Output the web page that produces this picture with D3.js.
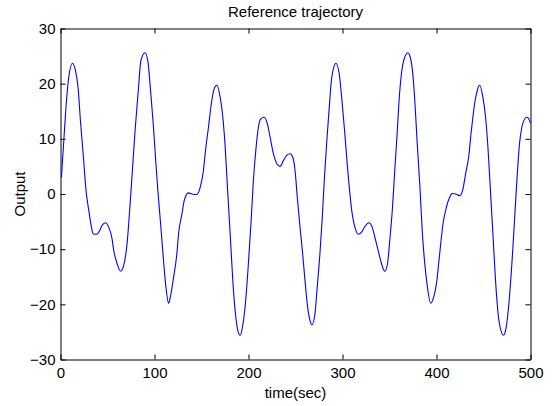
<!DOCTYPE html>
<html>
<head>
<meta charset="utf-8">
<script src="https://cdn.jsdelivr.net/npm/d3@7"></script>
<style>
  html, body { margin: 0; padding: 0; background: #fff; }
  svg text { font-family: "Liberation Sans", Arial, sans-serif; fill: #000; }
</style>
</head>
<body>
<svg id="chart" width="555" height="406"></svg>
<script>
// Sampled reference trajectory: time (s) and output value
const timeSec = [
  1, 4.2, 6.4, 8.8, 12.7, 15.9, 18.8, 21.2, 24.1, 27.2, 30.1, 32.6, 34.7, 38.2, 41.7, 44.2, 47.8, 51.3, 54.8, 56.6,
  60.2, 64.0, 67.2, 70.8, 74.3, 77.2, 79.6, 82.5, 85.6, 89.9, 93.1, 95.5, 98.4, 100.8, 103.3, 106.2, 109.0, 111.8, 115.0, 116.8,
  120.3, 123.8, 125.6, 129.2, 131.6, 136.2, 139.8, 145.1, 148.6, 152.1, 153.9, 157.4, 161.0, 163.5, 166.3, 169.9, 172.7, 175.2, 177.6, 180.5,
  183.3, 186.1, 188.6, 191.1, 193.9, 196.7, 199.9, 202.8, 205.2, 208.1, 210.5, 213.1, 216.6, 220.1, 223.0, 226.5, 230.1, 233.6, 237.2, 240.7,
  244.2, 247.0, 249.5, 251.9, 254.8, 257.6, 260.1, 262.9, 265.4, 267.5, 270.7, 273.1, 276.0, 278.5, 280.6, 283.1, 285.9, 288.4, 293.0, 296.5,
  299.7, 302.5, 305.0, 307.9, 310.3, 313.2, 316.7, 320.3, 323.8, 328.0, 331.6, 334.4, 337.9, 340.5, 345.0, 347.9, 350.3, 353.2, 355.6, 358.1,
  360.2, 362.7, 366.2, 369.7, 371.5, 374.4, 376.9, 379.3, 382.2, 385.0, 387.5, 389.9, 393.8, 397.0, 399.9, 403.4, 406.9, 410.5, 414.0, 416.9,
  420.4, 424.6, 428.1, 431.0, 434.2, 437.1, 440.6, 443.4, 445.9, 449.4, 452.2, 454.7, 457.2, 460.0, 462.8, 466.4, 471.3, 474.2, 477.0, 480.2,
  483.0, 485.5, 488.3, 490.8, 492.9, 496.1, 499.7, 500
];
const output = [
  3.0, 11.5, 17.0, 21.2, 23.7, 22.4, 19.1, 13.3, 7.3, 0.6, -3.0, -5.7, -7.2, -7.3, -6.6, -5.7, -5.2, -6.0, -8.1, -10.2,
  -12.6, -14.0, -13.0, -9.0, -1.2, 6.1, 12.1, 18.2, 24.2, 25.6, 23.9, 19.4, 13.3, 7.3, 1.2, -4.8, -10.8, -16.3, -19.8, -18.7,
  -15.1, -10.8, -7.2, -3.6, -1.2, 0.2, 0.0, -0.1, 1.2, 4.3, 7.3, 12.1, 17.0, 19.1, 19.7, 17.5, 13.9, 8.5, 1.2, -7.2,
  -15.7, -21.7, -24.7, -25.6, -23.8, -19.9, -12.6, -4.8, 2.4, 8.5, 12.1, 13.6, 13.9, 12.7, 10.3, 7.3, 5.5, 5.0, 6.1, 7.0,
  7.3, 6.7, 4.3, -0.6, -6.0, -10.8, -15.7, -20.5, -22.9, -23.7, -21.7, -16.9, -10.8, -4.2, 2.4, 9.1, 15.7, 20.9, 23.7, 21.8,
  16.4, 10.9, 5.5, 0.0, -3.6, -6.0, -7.3, -6.9, -5.9, -5.2, -6.0, -7.8, -10.2, -12.0, -14.0, -12.6, -8.4, -2.4, 4.3, 10.9,
  17.0, 21.8, 24.8, 25.6, 25.1, 22.4, 17.0, 9.7, 1.8, -7.2, -12.6, -16.3, -19.8, -18.7, -16.3, -10.8, -5.4, -2.4, -0.6, 0.1,
  0.0, -0.3, 0.9, 3.7, 6.7, 11.5, 16.4, 18.8, 19.7, 17.5, 13.9, 8.5, 1.2, -7.2, -15.7, -22.9, -25.6, -24.1, -19.9, -12.6,
  -4.8, 2.4, 9.1, 12.1, 13.3, 13.9, 13.0, 12.8
];
const xTicks = [0, 100, 200, 300, 400, 500];
const yTicks = [-30, -20, -10, 0, 10, 20, 30];

const svg = d3.select("#chart");
const plotLeft = 60.5, plotRight = 530.5, plotTop = 28.5, plotBottom = 359.5;
const fontSize = 15;

const x = d3.scaleLinear().domain([0, 500]).range([plotLeft, plotRight]);
const y = d3.scaleLinear().domain([-30, 30]).range([plotBottom, plotTop]);

// Axes with inward ticks on all four sides (box style)
const styleAxis = g => {
  g.selectAll(".domain").attr("stroke", "#000").attr("stroke-width", 1);
  g.selectAll(".tick line").attr("stroke", "#000").attr("stroke-width", 1);
  g.selectAll(".tick text").attr("font-size", fontSize)
    .attr("font-family", "'Liberation Sans', Arial, sans-serif").attr("fill", "#000");
};

svg.append("g").attr("transform", `translate(0,${plotBottom})`)
  .call(d3.axisBottom(x).tickValues(xTicks).tickSizeInner(-5).tickSizeOuter(0).tickPadding(8).tickFormat(d3.format("d")))
  .call(styleAxis);
svg.append("g").attr("transform", `translate(0,${plotTop})`)
  .call(d3.axisTop(x).tickValues(xTicks).tickSizeInner(-5).tickSizeOuter(0).tickFormat(""))
  .call(styleAxis);
svg.append("g").attr("transform", `translate(${plotLeft},0)`)
  .call(d3.axisLeft(y).tickValues(yTicks).tickSizeInner(-5).tickSizeOuter(0).tickPadding(5).tickFormat(d3.format("d")))
  .call(styleAxis);
svg.append("g").attr("transform", `translate(${plotRight},0)`)
  .call(d3.axisRight(y).tickValues(yTicks).tickSizeInner(-5).tickSizeOuter(0).tickFormat(""))
  .call(styleAxis);

// Trajectory line
const pts = timeSec.map((t, i) => [t, output[i]]);
svg.append("path")
  .datum(pts)
  .attr("fill", "none")
  .attr("stroke", "#0000ff")
  .attr("stroke-width", 1.1)
  .attr("d", d3.line().x(d => x(d[0])).y(d => y(d[1])).curve(d3.curveMonotoneX));

// Labels
svg.append("text").attr("x", (plotLeft + plotRight) / 2).attr("y", 17)
  .attr("text-anchor", "middle").attr("font-size", fontSize).text("Reference trajectory");
svg.append("text").attr("x", (plotLeft + plotRight) / 2).attr("y", 397.5)
  .attr("text-anchor", "middle").attr("font-size", fontSize).text("time(sec)");
svg.append("text").attr("transform", `translate(25,${(plotTop + plotBottom) / 2}) rotate(-90)`)
  .attr("text-anchor", "middle").attr("font-size", fontSize).text("Output");
</script>
</body>
</html>
